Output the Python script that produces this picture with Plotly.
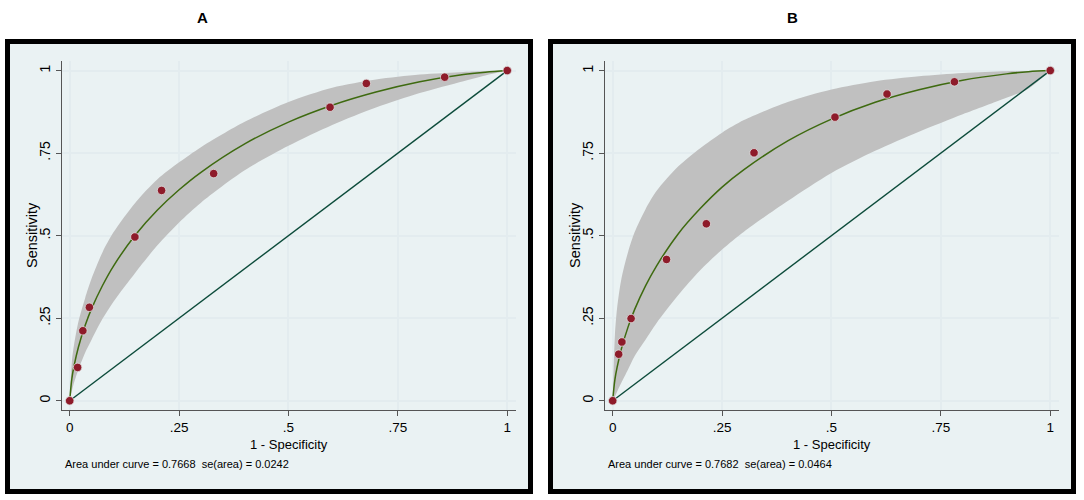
import plotly.graph_objects as go

# ---- data ----
tick_vals = [0, 0.25, 0.5, 0.75, 1]
tick_text = ["0", ".25", ".5", ".75", "1"]

# observed ROC points (1 - specificity, sensitivity)
a_fpr = [0, 0.018, 0.030, 0.045, 0.149, 0.210, 0.329, 0.595, 0.678, 0.857, 1]
a_sens = [0, 0.101, 0.212, 0.283, 0.496, 0.637, 0.688, 0.889, 0.961, 0.980, 1]
b_fpr = [0, 0.0137, 0.021, 0.042, 0.123, 0.214, 0.323, 0.508, 0.627, 0.781, 1]
b_sens = [0, 0.141, 0.178, 0.249, 0.428, 0.536, 0.751, 0.859, 0.929, 0.966, 1]

# fitted curve and confidence band
grid_x = [0, 0.005, 0.01, 0.02, 0.035, 0.05, 0.075, 0.1, 0.15, 0.2,
          0.25, 0.3, 0.4, 0.5, 0.6, 0.7, 0.8, 0.9, 0.95, 1]
a_fit = [0, 0.068, 0.106, 0.163, 0.227, 0.279, 0.349, 0.408, 0.502, 0.577,
         0.639, 0.692, 0.778, 0.844, 0.895, 0.935, 0.966, 0.988, 0.995, 1]
a_upper = [0, 0.12, 0.17, 0.24, 0.31, 0.37, 0.45, 0.51, 0.60, 0.67,
           0.722, 0.768, 0.845, 0.905, 0.948, 0.973, 0.988, 0.996, 0.999, 1]
a_lower = [0, 0.03, 0.055, 0.095, 0.145, 0.185, 0.248, 0.30, 0.388, 0.47,
           0.54, 0.60, 0.698, 0.772, 0.835, 0.888, 0.932, 0.968, 0.985, 1]
b_fit = [0, 0.064, 0.101, 0.158, 0.223, 0.276, 0.348, 0.408, 0.506, 0.582,
         0.647, 0.700, 0.787, 0.853, 0.904, 0.942, 0.971, 0.990, 0.9965, 1]
b_upper = [0, 0.2, 0.28, 0.37, 0.45, 0.51, 0.58, 0.635, 0.71, 0.765,
           0.812, 0.85, 0.905, 0.943, 0.968, 0.983, 0.993, 0.998, 0.999, 1]
b_lower = [0, 0.012, 0.027, 0.055, 0.095, 0.135, 0.185, 0.235, 0.32, 0.395,
           0.458, 0.512, 0.605, 0.69, 0.757, 0.815, 0.868, 0.918, 0.945, 1]

panels = [
    ("A", a_fpr, a_sens, a_fit, a_upper, a_lower, "Area under curve = 0.7668\u00a0\u00a0se(area) = 0.0242"),
    ("B", b_fpr, b_sens, b_fit, b_upper, b_lower, "Area under curve = 0.7682\u00a0\u00a0se(area) = 0.0464"),
]

W, H = 1084, 500
FONT = "Arial, Liberation Sans, sans-serif"
BAND = "#C0C0C0"
FIT = "#3E6A10"
DIAG = "#0C4B3A"
DOT = "#8E1B2A"
PANEL_BG = "#EAF2F3"
GRID = "#E3ECEF"


def px(x):
    return x / W


def py(y):
    return 1 - y / H


fig = go.Figure()
shapes = []
annotations = []

for i, (name, fx, fy, fit, up, lo, auc) in enumerate(panels):
    off = 543 * i
    xa = "x" if i == 0 else "x2"
    ya = "y" if i == 0 else "y2"

    # confidence band
    fig.add_trace(go.Scatter(x=grid_x, y=up, mode="lines", line=dict(width=0, shape="spline", smoothing=0.8),
                             xaxis=xa, yaxis=ya, hoverinfo="skip", showlegend=False))
    fig.add_trace(go.Scatter(x=grid_x, y=lo, mode="lines", line=dict(width=0, shape="spline", smoothing=0.8),
                             fill="tonexty", fillcolor=BAND, xaxis=xa, yaxis=ya,
                             hoverinfo="skip", showlegend=False))
    # chance line
    fig.add_trace(go.Scatter(x=[0, 1], y=[0, 1], mode="lines", line=dict(color=DIAG, width=1.4),
                             xaxis=xa, yaxis=ya, showlegend=False))
    # fitted curve
    fig.add_trace(go.Scatter(x=grid_x, y=fit, mode="lines", line=dict(color=FIT, width=1.5, shape="spline"),
                             xaxis=xa, yaxis=ya, showlegend=False))
    # observed points
    fig.add_trace(go.Scatter(x=fx, y=fy, mode="markers",
                             marker=dict(color=DOT, size=8.5, line=dict(color="#E0E0E0", width=0.8)),
                             xaxis=xa, yaxis=ya, showlegend=False))

    # panel frame
    shapes.append(dict(type="rect", xref="paper", yref="paper", layer="below",
                       x0=px(7.5 + off), x1=px(530.5 + off), y0=py(491.5), y1=py(41.5),
                       line=dict(color="black", width=5), fillcolor=PANEL_BG))

    txt = dict(xref="paper", yref="paper", showarrow=False, xanchor="center", yanchor="middle")
    annotations += [
        dict(txt, text="<b>%s</b>" % name, x=px(202 + 590 * i), y=py(17),
             font=dict(size=15, color="black", family=FONT)),
        dict(txt, text="Sensitivity", x=px(32 + off), y=py(235), textangle=-90,
             font=dict(size=14.5, color="black", family=FONT)),
        dict(txt, text="1 - Specificity", x=px(289 + off), y=py(444),
             font=dict(size=13, color="black", family=FONT)),
        dict(txt, text=auc, x=px(63 + off), y=py(464), xanchor="left",
             font=dict(size=11, color="black", family=FONT)),
    ]

    axis_common = dict(tickvals=tick_vals, ticktext=tick_text, showgrid=True, gridcolor=GRID,
                       gridwidth=1.5, zeroline=False, showline=True, linecolor="#555555",
                       linewidth=1.2, ticks="outside", ticklen=5, tickcolor="#555555")
    left = 62 + off
    fig.update_layout(**{
        ("xaxis" if i == 0 else "xaxis2"): dict(axis_common, domain=[px(left), px(left + 454)],
                                                range=[-0.0176, 1.020], anchor=ya,
                                                tickfont=dict(size=13.5, color="black", family=FONT)),
        ("yaxis" if i == 0 else "yaxis2"): dict(axis_common, domain=[py(410), py(61)],
                                                range=[-0.028, 1.029], anchor=xa, tickangle=-90,
                                                tickfont=dict(size=14, color="black", family=FONT)),
    })

fig.update_layout(
    width=W, height=H,
    margin=dict(l=0, r=0, t=0, b=0),
    paper_bgcolor="white",
    plot_bgcolor="white",
    shapes=shapes,
    annotations=annotations,
    font=dict(family=FONT),
)

# the page adds an 8px body margin; drop it so the figure sits at the window origin
fig.write_html("out.html", config={"displayModeBar": False},
               post_script="document.body.style.margin='0';")
